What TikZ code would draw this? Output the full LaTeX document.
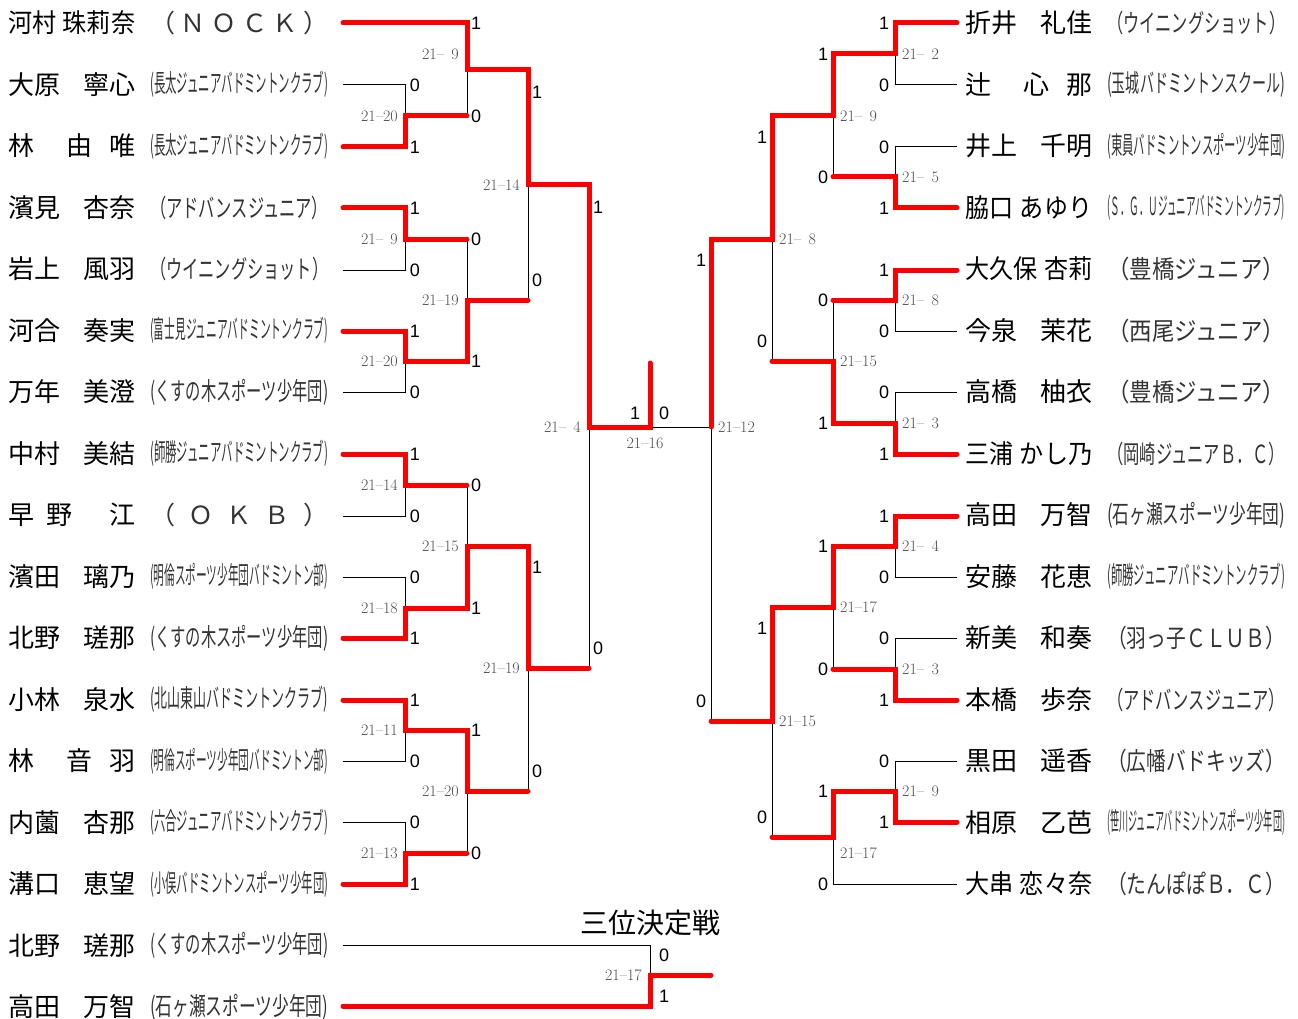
\documentclass[tikz,border=0pt]{standalone}
\usepackage{fontspec}
\usepackage{graphicx}
\newfontfamily\jpfont{Noto Sans CJK JP}
\newfontfamily\markfont{Liberation Sans}

\newcommand{\club}[1]{\resizebox{178pt}{\height}{#1}}
\newcommand{\longname}[2]{\resizebox{127pt}{\height}{#1\hspace{7pt}#2}}
\newcommand{\gamescore}[1]{21--\ifnum#1<10 \hphantom{0}\fi#1}

\tikzset{
  winline/.style={red, line width=5pt, line cap=round, line join=miter},
  loseline/.style={black, line width=1pt},
  playername/.style={anchor=west, inner sep=0pt, font=\jpfont\fontsize{26pt}{30pt}\selectfont},
  clubname/.style={anchor=west, inner sep=0pt, text=black!80, font=\jpfont\fontsize{25pt}{29pt}\selectfont},
  scorelbl/.style={inner sep=0pt, text=black!70, font=\fontsize{16pt}{18pt}\selectfont},
  winmark/.style={inner sep=0pt, font=\markfont\fontsize{18pt}{20pt}\selectfont},
}

\begin{document}
\begin{tikzpicture}[x=1pt,y=-1pt]
  \useasboundingbox (0,0) rectangle (1298,1019);

  %Spielerinnen links
  \foreach \nm/\cl [count=\i] in {
      {\longname{河村}{珠莉奈}}/{\makebox[178pt][s]{（\hfill Ｎ\hfill Ｏ\hfill Ｃ\hfill Ｋ\hfill ）}},
      {大原\hfill 寧心}/{(長太ジュニアバドミントンクラブ)},
      {林\hfill\hfill 由\hfill 唯}/{(長太ジュニアバドミントンクラブ)},
      {濱見\hfill 杏奈}/{（アドバンスジュニア）},
      {岩上\hfill 風羽}/{（ウイニングショット）},
      {河合\hfill 奏実}/{(富士見ジュニアバドミントンクラブ)},
      {万年\hfill 美澄}/{(くすの木スポーツ少年団)},
      {中村\hfill 美結}/{(師勝ジュニアバドミントンクラブ)},
      {早\hfill 野\hfill\hfill\hfill 江}/{\makebox[178pt][s]{（\hfill Ｏ\hfill Ｋ\hfill Ｂ\hfill ）}},
      {濱田\hfill 璃乃}/{(明倫スポーツ少年団バドミントン部)},
      {北野\hfill 瑳那}/{(くすの木スポーツ少年団)},
      {小林\hfill 泉水}/{(北山東山バドミントンクラブ)},
      {林\hfill\hfill 音\hfill 羽}/{(明倫スポーツ少年団バドミントン部)},
      {内薗\hfill 杏那}/{(六合ジュニアバドミントンクラブ)},
      {溝口\hfill 恵望}/{(小俣バドミントンスポーツ少年団)},
      {北野\hfill 瑳那}/{(くすの木スポーツ少年団)},
      {高田\hfill 万智}/{(石ヶ瀬スポーツ少年団)}}{
    \node[playername] (ln\i) at (8,{23+(\i-1)*61.5}) {\makebox[127pt][s]{\nm}};
    \node[clubname] (lc\i) at (150,{23+(\i-1)*61.5}) {\club{\cl}};
  }

  %Spielerinnen rechts
  \foreach \nm/\cl [count=\i] in {
      {折井\hfill 礼佳}/{（ウイニングショット）},
      {辻\hfill\hfill 心\hfill 那}/{(玉城バドミントンスクール)},
      {井上\hfill 千明}/{(東員バドミントンスポーツ少年団)},
      {\longname{脇口}{あゆり}}/{(Ｓ．Ｇ．Ｕジュニアバドミントンクラブ)},
      {\longname{大久保}{杏莉}}/{（豊橋ジュニア）},
      {今泉\hfill 茉花}/{（西尾ジュニア）},
      {高橋\hfill 柚衣}/{（豊橋ジュニア）},
      {\longname{三浦}{かし乃}}/{（岡崎ジュニアＢ．Ｃ）},
      {高田\hfill 万智}/{(石ヶ瀬スポーツ少年団)},
      {安藤\hfill 花恵}/{(師勝ジュニアバドミントンクラブ)},
      {新美\hfill 和奏}/{（羽っ子ＣＬＵＢ）},
      {本橋\hfill 歩奈}/{（アドバンスジュニア）},
      {黒田\hfill 遥香}/{（広幡バドキッズ）},
      {相原\hfill 乙芭}/{(笹川ジュニアバドミントンスポーツ少年団)},
      {\longname{大串}{恋々奈}}/{（たんぽぽＢ．Ｃ）}}{
    \node[playername] (rn\i) at (965,{23+(\i-1)*61.5}) {\makebox[127pt][s]{\nm}};
    \node[clubname] (rc\i) at (1107,{23+(\i-1)*61.5}) {\club{\cl}};
  }

  \node[font=\jpfont\fontsize{28pt}{32pt}\selectfont] (title3) at (650,923) {三位決定戦};

  %Verlierer (schwarz) links
  \draw[loseline] (343,85) -- (405,85) -- (405,116);
  \draw[loseline] (343,270) -- (405,270) -- (405,239);
  \draw[loseline] (343,392) -- (405,392) -- (405,361);
  \draw[loseline] (343,516) -- (405,516) -- (405,485);
  \draw[loseline] (343,577) -- (405,577) -- (405,608);
  \draw[loseline] (343,761) -- (405,761) -- (405,730);
  \draw[loseline] (343,822) -- (405,822) -- (405,853);
  \draw[loseline] (467,70) -- (467,116);
  \draw[loseline] (467,239) -- (467,300);
  \draw[loseline] (467,485) -- (467,546);
  \draw[loseline] (467,853) -- (467,791);
  \draw[loseline] (528,185) -- (528,300);
  \draw[loseline] (528,668) -- (528,791);
  \draw[loseline] (589,427) -- (589,668);
  \draw[loseline] (650,427) -- (711,427);  %Finale
  %Verlierer (schwarz) rechts
  \draw[loseline] (957,85) -- (895,85) -- (895,54);
  \draw[loseline] (957,147) -- (895,147) -- (895,177);
  \draw[loseline] (957,331) -- (895,331) -- (895,300);
  \draw[loseline] (957,392) -- (895,392) -- (895,423);
  \draw[loseline] (957,577) -- (895,577) -- (895,546);
  \draw[loseline] (957,638) -- (895,638) -- (895,669);
  \draw[loseline] (957,761) -- (895,761) -- (895,791);
  \draw[loseline] (957,884) -- (833,884) -- (833,837);
  \draw[loseline] (833,116) -- (833,177);
  \draw[loseline] (833,361) -- (833,300);
  \draw[loseline] (833,607) -- (833,669);
  \draw[loseline] (772,239) -- (772,361);
  \draw[loseline] (772,721) -- (772,837);
  \draw[loseline] (711,427) -- (711,721);
  \draw[loseline] (343,945) -- (650,945) -- (650,975);  %Platz 3

  %Siegerwege (rot) links
  \draw[winline] (343,23) -- (467,23) -- (467,70) -- (528,70) -- (528,185) -- (589,185)
                 -- (589,427) -- (650,427) -- (650,363);
  \draw[winline] (343,147) -- (405,147) -- (405,116) -- (467,116);
  \draw[winline] (343,208) -- (405,208) -- (405,239) -- (467,239);
  \draw[winline] (343,331) -- (405,331) -- (405,361) -- (467,361) -- (467,300) -- (528,300);
  \draw[winline] (343,454) -- (405,454) -- (405,485) -- (467,485);
  \draw[winline] (343,638) -- (405,638) -- (405,608) -- (467,608) -- (467,546) -- (528,546)
                 -- (528,668) -- (589,668);
  \draw[winline] (343,700) -- (405,700) -- (405,730) -- (467,730) -- (467,791) -- (528,791);
  \draw[winline] (343,884) -- (405,884) -- (405,853) -- (467,853);
  %Siegerwege (rot) rechts
  \draw[winline] (957,23) -- (895,23) -- (895,54) -- (833,54) -- (833,116) -- (772,116)
                 -- (772,239) -- (711,239) -- (711,427);
  \draw[winline] (957,208) -- (895,208) -- (895,177) -- (833,177);
  \draw[winline] (957,270) -- (895,270) -- (895,300) -- (833,300);
  \draw[winline] (957,454) -- (895,454) -- (895,423) -- (833,423) -- (833,361) -- (772,361);
  \draw[winline] (957,516) -- (895,516) -- (895,546) -- (833,546) -- (833,607) -- (772,607)
                 -- (772,721) -- (711,721);
  \draw[winline] (957,700) -- (895,700) -- (895,669) -- (833,669);
  \draw[winline] (957,822) -- (895,822) -- (895,791) -- (833,791) -- (833,837) -- (772,837);
  \draw[winline] (343,1006) -- (650,1006) -- (650,975) -- (711,975);  %Platz 3

  %Ergebnisse
  \foreach \x/\y/\s [count=\k] in {398/116/20, 398/239/9, 398/361/20, 398/485/14, 398/608/18,
      398/730/11, 398/853/13, 459/54/9, 459/300/19, 459/546/15, 459/791/20,
      520/185/14, 520/668/19, 581/427/4, 642/975/17}
    \node[scorelbl, anchor=east] (sl\k) at (\x,\y) {\gamescore{\s}};
  \foreach \x/\y/\s [count=\k] in {902/54/2, 902/177/5, 902/300/8, 902/423/3, 902/546/4,
      902/669/3, 902/791/9, 840/116/9, 840/361/15, 840/607/17, 840/853/17,
      779/239/8, 779/721/15, 718/427/12}
    \node[scorelbl, anchor=west] (sr\k) at (\x,\y) {\gamescore{\s}};
  \node[scorelbl] (sfin) at (645,443) {\gamescore{16}};

  %Siege/Niederlagen
  \foreach \x/\y/\m [count=\k] in {415/85/0, 415/147/1, 415/208/1, 415/270/0, 415/331/1,
      415/392/0, 415/454/1, 415/516/0, 415/577/0, 415/638/1, 415/700/1, 415/761/0,
      415/822/0, 415/884/1, 476/23/1, 476/116/0, 476/239/0, 476/361/1, 476/485/0,
      476/608/1, 476/730/1, 476/853/0, 537/92/1, 537/280/0, 537/567/1, 537/771/0,
      598/207/1, 598/648/0, 635/413/1, 664/413/0, 664/955/0, 664/996/1}
    \node[winmark] (ml\k) at (\x,\y) {\m};
  \foreach \x/\y/\m [count=\k] in {884/23/1, 884/85/0, 884/147/0, 884/208/1, 884/270/1,
      884/331/0, 884/392/0, 884/454/1, 884/516/1, 884/577/0, 884/638/0, 884/700/1,
      884/761/0, 884/822/1, 823/54/1, 823/177/0, 823/300/0, 823/423/1, 823/546/1,
      823/669/0, 823/791/1, 823/884/0, 762/137/1, 762/341/0, 762/628/1, 762/817/0,
      701/260/1, 701/701/0}
    \node[winmark] (mr\k) at (\x,\y) {\m};
\end{tikzpicture}
\end{document}
